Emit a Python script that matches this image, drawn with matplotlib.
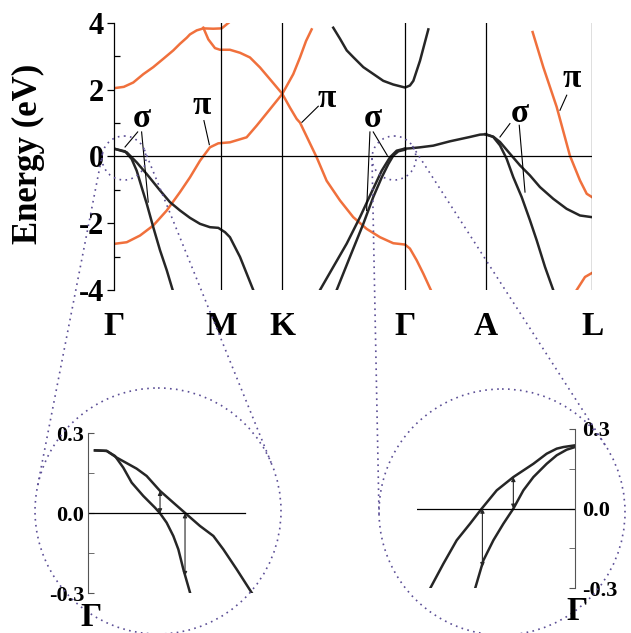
import numpy as np
import matplotlib
matplotlib.use('Agg')
import matplotlib.pyplot as plt
from matplotlib.patches import Circle

plt.rcParams['font.family'] = ['Liberation Serif', 'DejaVu Serif']
plt.rcParams['font.weight'] = 'bold'

# high symmetry points along the path (Gamma-K = 1)
sym_k = [0, 0.870, 1.372, 2.372, 3.029, 3.896]
sym_lbl = ['Γ', 'M', 'K', 'Γ', 'A', 'L']

# pi bands (orange)
k_o1 = [0, 0.08, 0.157, 0.239, 0.32, 0.402, 0.483, 0.538, 0.593, 0.619, 0.674, 0.728, 0.809, 0.878, 0.918, 0.935]
e_o1 = [2.04, 2.08, 2.21, 2.46, 2.67, 2.92, 3.17, 3.37, 3.55, 3.65, 3.77, 3.83, 3.82, 3.83, 3.95, 4.0]
k_o2 = [0.728, 0.769, 0.823, 0.864, 0.945, 1.027, 1.108, 1.190, 1.271, 1.372, 1.434, 1.489, 1.516,
        1.652, 1.733, 1.842, 1.950, 2.059, 2.168, 2.276, 2.372, 2.412, 2.467, 2.521, 2.595]
e_o2 = [3.85, 3.50, 3.24, 3.19, 3.19, 3.10, 2.96, 2.66, 2.31, 1.87, 1.46, 1.12, 1.01,
        -0.03, -0.73, -1.32, -1.82, -2.17, -2.42, -2.60, -2.64, -2.76, -3.11, -3.51, -4.1]
k_o3 = [0, 0.104, 0.212, 0.320, 0.430, 0.538, 0.619, 0.701, 0.782, 0.850, 0.945, 1.081, 1.163,
        1.271, 1.372, 1.461, 1.516, 1.565, 1.611]
e_o3 = [-2.62, -2.57, -2.37, -2.07, -1.62, -1.07, -0.63, -0.13, 0.27, 0.39, 0.42, 0.57, 0.92,
        1.41, 1.87, 2.46, 2.96, 3.45, 3.80]
k_o4 = [3.412, 3.499, 3.608, 3.716, 3.798, 3.853, 3.896]
e_o4 = [3.72, 2.67, 1.48, 0.02, -0.72, -1.12, -1.22]
k_o5 = [3.771, 3.839, 3.896]
e_o5 = [-4.0, -3.61, -3.49]

# sigma bands (black)
k_b1 = [0, 0.090, 0.144, 0.185, 0.226, 0.267, 0.320, 0.375, 0.430, 0.483]
e_b1 = [0.23, 0.15, -0.08, -0.43, -0.93, -1.42, -2.12, -2.81, -3.41, -4.06]
k_b2 = [0, 0.104, 0.185, 0.267, 0.375, 0.456, 0.538, 0.619, 0.701, 0.782, 0.850, 0.905, 0.945, 1.027, 1.135]
e_b2 = [0.23, 0.12, -0.18, -0.53, -1.02, -1.37, -1.62, -1.84, -2.02, -2.12, -2.14, -2.27, -2.42, -3.01, -4.0]
k_b3 = [1.787, 1.842, 1.897, 1.950, 2.032, 2.195, 2.276, 2.372, 2.412, 2.440, 2.494, 2.562]
e_b3 = [3.85, 3.52, 3.17, 2.97, 2.67, 2.26, 2.15, 2.06, 2.12, 2.26, 2.86, 3.80]
k_b4 = [1.679, 1.787, 1.897, 2.005, 2.100, 2.182, 2.249, 2.304, 2.358, 2.372]
e_b4 = [-4.0, -3.31, -2.61, -1.82, -1.07, -0.43, -0.03, 0.17, 0.22, 0.23]
k_b5 = [1.815, 1.923, 2.032, 2.113, 2.182, 2.236, 2.276, 2.317, 2.372]
e_b5 = [-4.0, -3.01, -2.02, -1.22, -0.63, -0.23, 0.02, 0.15, 0.20]
k_ga = [2.372, 2.412, 2.494, 2.602, 2.738, 2.901, 2.983, 3.029]
e_ga = [0.23, 0.24, 0.27, 0.32, 0.45, 0.58, 0.65, 0.66]
k_b6 = [3.029, 3.091, 3.146, 3.200, 3.254, 3.323, 3.390, 3.445, 3.513, 3.580]
e_b6 = [0.66, 0.58, 0.33, -0.07, -0.62, -1.22, -1.91, -2.51, -3.31, -4.0]
k_b7 = [3.029, 3.091, 3.146, 3.227, 3.309, 3.390, 3.472, 3.580, 3.689, 3.798, 3.896]
e_b7 = [0.66, 0.59, 0.43, 0.08, -0.27, -0.57, -0.92, -1.27, -1.57, -1.77, -1.82]

# zoomed insets near Gamma
kl_a = [0, 0.0133, 0.0227, 0.0322, 0.0417, 0.0549, 0.0682, 0.0739, 0.0814, 0.0890, 0.0947, 0.1004, 0.1080]
el_a = [0.236, 0.234, 0.215, 0.171, 0.115, 0.065, 0.021, 0.0, -0.035, -0.085, -0.135, -0.21, -0.2975]
kl_b = [0, 0.0133, 0.0246, 0.0473, 0.0587, 0.0739, 0.0890, 0.1042, 0.1193, 0.1345, 0.1458, 0.1610, 0.1780]
el_b = [0.236, 0.234, 0.209, 0.1675, 0.14, 0.084, 0.04, -0.004, -0.0475, -0.085, -0.135, -0.21, -0.2975]
kr_c = [0, -0.0133, -0.0208, -0.0322, -0.0473, -0.0701, -0.0890, -0.1061, -0.1193, -0.1345, -0.1496, -0.1648]
er_c = [0.2385, 0.232, 0.226, 0.207, 0.169, 0.119, 0.069, 0.0, -0.0565, -0.119, -0.207, -0.301]
kr_d = [0, -0.0095, -0.0208, -0.0322, -0.0473, -0.0587, -0.0701, -0.0814, -0.0928, -0.1042, -0.1136]
er_d = [0.232, 0.222, 0.201, 0.169, 0.119, 0.069, 0.0, -0.0565, -0.119, -0.195, -0.301]

orange = '#F0703C'
black = '#262626'
dotc = '#5c4f96'
W, H = 631, 633

fig = plt.figure(figsize=(6.31, 6.33), dpi=100)

ax = fig.add_axes([114 / W, 1 - 290 / H, (592 - 114) / W, (290 - 22.7) / H])
for k, e in [(k_o1, e_o1), (k_o2, e_o2), (k_o3, e_o3), (k_o4, e_o4), (k_o5, e_o5)]:
    ax.plot(k, e, color=orange, lw=1.8)
for k, e in [(k_b1, e_b1), (k_b2, e_b2), (k_b3, e_b3), (k_b4, e_b4), (k_b5, e_b5),
             (k_ga, e_ga), (k_b6, e_b6), (k_b7, e_b7)]:
    ax.plot(k, e, color=black, lw=1.8)
for x in sym_k[1:]:
    ax.axvline(x, color='black', lw=0.9)
ax.axhline(0, color='black', lw=0.9)
ax.set_xlim(sym_k[0], sym_k[-1])
ax.set_ylim(-4, 4)
for s in ['top', 'right', 'bottom']:
    ax.spines[s].set_visible(False)
ax.spines['left'].set_linewidth(0.9)
ax.set_yticks([-4, -2, 0, 2, 4])
ax.set_yticklabels(['-4', '-2', '0', '2', '4'], fontsize=22, fontweight='bold')
ax.set_yticks([-3, -1, 1, 3], minor=True)
ax.tick_params(axis='y', which='major', direction='out', length=5, width=0.9, pad=2)
ax.tick_params(axis='y', which='minor', direction='in', length=4, width=0.9)
ax.set_xticks(sym_k)
ax.set_xticklabels(sym_lbl, fontsize=24, fontweight='bold')
ax.tick_params(axis='x', length=0, pad=15)
fig.text(28 / W, 1 - 154 / H, 'Energy (eV)', rotation=90, ha='center', va='center',
         fontsize=25, fontweight='bold')

# sigma / pi labels
labels = [('σ', 0.225, 1.08, [((0.193, 0.73), (0.090, 0.28)), ((0.225, 0.73), (0.279, -1.37))]),
          ('π', 0.715, 1.48, [((0.733, 1.07), (0.777, 0.35))]),
          ('π', 1.733, 1.68, [((1.665, 1.50), (1.532, 1.02))]),
          ('σ', 2.113, 1.08, [((2.086, 0.73), (2.059, -1.62)), ((2.113, 0.73), (2.227, 0.03))]),
          ('σ', 3.309, 1.23, [((3.227, 0.98), (3.146, 0.58)), ((3.303, 0.93), (3.350, -1.07))]),
          ('π', 3.730, 2.28, [((3.690, 1.83), (3.635, 1.38))])]
for txt, x, y, segs in labels:
    ax.text(x, y + 0.05, txt, fontsize=24, fontweight='bold', ha='center', va='center')
    for (x0, y0), (x1, y1) in segs:
        ax.plot([x0, x1], [y0, y1], color='black', lw=0.8)

# left inset
axl = fig.add_axes([88.3 / W, 1 - 593.3 / H, (260 - 88.3) / W, 160 / H])
axl.plot(kl_a, el_a, color=black, lw=1.8)
axl.plot(kl_b, el_b, color=black, lw=1.8)
axl.set_xlim(-0.0076, 0.1875)
axl.set_ylim(-0.3, 0.3)
axl.axhline(0, xmax=0.913, color='black', lw=0.9)
for s in ['top', 'right', 'bottom']:
    axl.spines[s].set_visible(False)
axl.spines['left'].set_color('#555555')
axl.set_xticks([])
axl.set_yticks([-0.3, 0.0, 0.3])
axl.set_yticklabels(['-0.3', '0.0', '0.3'], fontsize=16, fontweight='bold')
axl.set_yticks([-0.15, 0.15], minor=True)
axl.tick_params(axis='y', which='both', direction='in', length=4, color='#555555', pad=3)
axl.patch.set_alpha(0)

# right inset
axr = fig.add_axes([416.7 / W, 1 - 588.3 / H, (575 - 416.7) / W, 159.3 / H])
axr.plot(kr_c, er_c, color=black, lw=1.8)
axr.plot(kr_d, er_d, color=black, lw=1.8)
axr.set_xlim(-0.18, 0)
axr.set_ylim(-0.3, 0.3)
axr.axhline(0, color='black', lw=0.9)
for s in ['top', 'left', 'bottom']:
    axr.spines[s].set_visible(False)
axr.spines['right'].set_color('#555555')
axr.set_xticks([])
axr.yaxis.tick_right()
axr.set_yticks([-0.3, 0.0, 0.3])
axr.set_yticklabels(['-0.3', '0.0', '0.3'], fontsize=16, fontweight='bold')
axr.set_yticks([-0.15, 0.15], minor=True)
axr.tick_params(axis='y', which='both', direction='in', length=4, color='#555555', pad=5)
axr.patch.set_alpha(0)

arr = dict(arrowstyle='<|-|>', lw=0.8, color=black, mutation_scale=6, shrinkA=0, shrinkB=0)
axl.annotate('', xy=(0.0739, 0.0), xytext=(0.0739, 0.084), arrowprops=arr)
axl.annotate('', xy=(0.1023, -0.235), xytext=(0.1023, 0.0), arrowprops=arr)
axr.annotate('', xy=(-0.0701, 0.0), xytext=(-0.0701, 0.119), arrowprops=arr)
axr.annotate('', xy=(-0.1053, -0.22), xytext=(-0.1053, 0.0), arrowprops=arr)

fig.text(91 / W, 1 - 617 / H, 'Γ', fontsize=24, fontweight='bold', ha='center', va='center')
fig.text(577 / W, 1 - 612 / H, 'Γ', fontsize=24, fontweight='bold', ha='center', va='center')

# dotted magnifier circles
ov = fig.add_axes([0, 0, 1, 1])
ov.set_xlim(0, W)
ov.set_ylim(H, 0)
ov.axis('off')
ov.patch.set_alpha(0)
dots = dict(color=dotc, lw=1.2, linestyle=(0, (1, 2.6)))


def tangents(c1, r1, c2, r2):
    c1 = np.array(c1, float)
    c2 = np.array(c2, float)
    d = c2 - c1
    D = np.hypot(*d)
    u = d / D
    p = np.array([-u[1], u[0]])
    a = (r2 - r1) / D
    out = []
    for s in (1, -1):
        n = a * u + s * np.sqrt(1 - a * a) * p
        out.append((c1 - r1 * n, c2 - r2 * n))
    return out


for small, big in [(((124, 158), 22), ((158, 511), 123)), (((394, 158), 22), ((502, 512), 123))]:
    for c, r in (small, big):
        ov.add_patch(Circle(c, r, fill=False, **dots))
    for p1, p2 in tangents(small[0], small[1], big[0], big[1]):
        ov.plot([p1[0], p2[0]], [p1[1], p2[1]], **dots)

fig.savefig('out.png', dpi=100)
